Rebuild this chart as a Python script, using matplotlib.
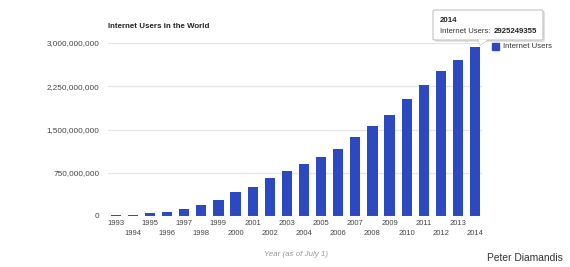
import matplotlib
matplotlib.use("Agg")
import matplotlib.pyplot as plt
from matplotlib.patches import FancyBboxPatch, Rectangle, Polygon

years = list(range(1993, 2015))
users = [14161570, 25454590, 44838900, 77433860, 120758310, 188023930,
         280866670, 413425190, 500609240, 662663600, 778555680, 910060180,
         1029717906, 1157500065, 1373040542, 1562067594, 1752333178,
         2034259368, 2272463038, 2511615523, 2712239573, 2925249355]
yticks = [0, 750000000, 1500000000, 2250000000, 3000000000]
ytick_labels = ["0", "750,000,000", "1,500,000,000", "2,250,000,000", "3,000,000,000"]

plt.rcParams['font.family'] = ['Liberation Sans', 'DejaVu Sans']
W, H = 570, 267
fig = plt.figure(figsize=(W/100, H/100), dpi=100)
fig.patch.set_facecolor('white')

def fx(px): return px / W
def fy(py): return 1 - py / H

ax = fig.add_axes([fx(108), fy(216), fx(482) - fx(108), fy(43) - fy(216)])
bar_color = '#2c49c0'
x = list(range(len(years)))
ax.bar(x, users, width=0.6, color=bar_color, zorder=3)
ax.set_xlim(-0.45, len(years) - 1 + 0.4)
ax.set_ylim(0, 3000000000)
ax.set_yticks(yticks)
ax.set_yticklabels(ytick_labels, fontsize=5.9, color='#444444')
ax.tick_params(axis='y', length=0, pad=6)
for v in yticks[1:]:
    ax.axhline(v, color='#e4e4e4', lw=0.9, zorder=1)
ax.axhline(0, color='#aaaaaa', lw=0.8, zorder=4)
for s in ax.spines.values():
    s.set_visible(False)
ax.set_xticks(x)
labels = [str(y) if i % 2 == 0 else "\n" + str(y) for i, y in enumerate(years)]
ax.set_xticklabels(labels, fontsize=5.5, color='#444444', linespacing=1.55)
ax.tick_params(axis='x', length=0, pad=3)

fig.text(fx(108), fy(27), "Internet Users in the World", fontsize=5.7,
         fontweight='bold', color='#222222', ha='left', va='center')
fig.text(fx(296), fy(254), "Year (as of July 1)", fontsize=5.7, style='italic',
         color='#999999', ha='center', va='center')
fig.text(fx(563), fy(258), "Peter Diamandis", fontsize=7.4, color='#333333',
         ha='right', va='center')

# legend
fig.patches.append(Rectangle((fx(492), fy(50)), fx(7), fy(43) - fy(50),
                             transform=fig.transFigure, color=bar_color))
fig.text(fx(503), fy(46.5), "Internet Users", fontsize=5.6, color='#333333',
         ha='left', va='center')

# tooltip
shadow = FancyBboxPatch((fx(435), fy(42)), fx(545) - fx(435), fy(11) - fy(42),
                        boxstyle="round,pad=0,rounding_size=0.004",
                        transform=fig.transFigure, facecolor='#e2e2e2',
                        edgecolor='none', zorder=5)
box = FancyBboxPatch((fx(433), fy(40)), fx(543) - fx(433), fy(10) - fy(40),
                     boxstyle="round,pad=0,rounding_size=0.004",
                     transform=fig.transFigure, facecolor='white',
                     edgecolor='#bbbbbb', lw=0.7, zorder=6)
fig.patches.append(shadow)
fig.patches.append(box)
ptr = Polygon([(fx(478), fy(39.6)), (fx(488), fy(39.6)), (fx(480), fy(45))],
              closed=True, transform=fig.transFigure, facecolor='white',
              edgecolor='none', zorder=7)
fig.patches.append(ptr)
fig.lines.append(plt.Line2D([fx(488), fx(480), fx(478)], [fy(40), fy(45), fy(40)],
                            transform=fig.transFigure, color='#bbbbbb', lw=0.7,
                            zorder=7))
fig.text(fx(440), fy(20), "2014", fontsize=5.7, fontweight='bold',
         color='#222222', ha='left', va='center', zorder=8)
fig.text(fx(440), fy(31), "Internet Users:", fontsize=5.5,
         color='#333333', ha='left', va='center', zorder=8)
fig.text(fx(537), fy(31), str(users[-1]), fontsize=5.6,
         fontweight='bold', color='#222222', ha='right', va='center', zorder=8)

fig.savefig("out.png", dpi=100, facecolor='white')
